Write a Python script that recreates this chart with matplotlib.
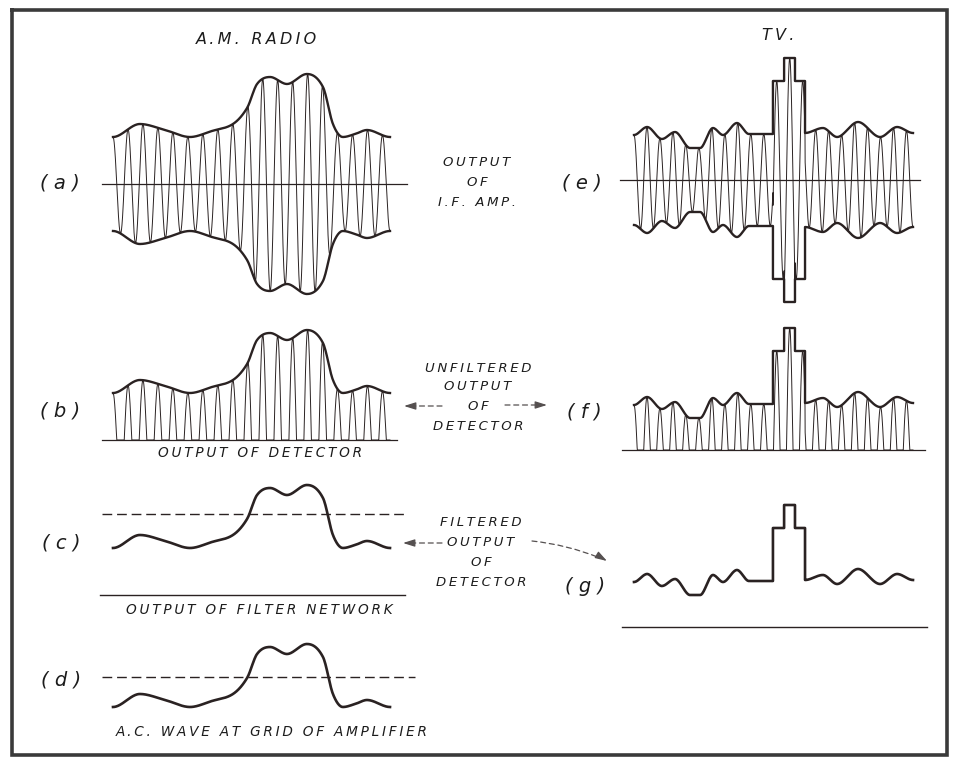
import numpy as np
import matplotlib
matplotlib.use("Agg")
import matplotlib.pyplot as plt

# ---------------- data ----------------
# A.M. radio modulation envelope: time position (0..1) and envelope amplitude
am_t = [0.000, 0.097, 0.188, 0.278, 0.357, 0.433, 0.484, 0.520, 0.567,
        0.628, 0.700, 0.758, 0.794, 0.830, 0.874, 0.917, 1.000]
am_amp = [47, 60, 54, 47, 53, 60, 76, 100, 107, 100, 110, 97, 60, 47, 50, 54, 47]

# T.V. video envelope: wave before the sync pulse, sync pulse, wave after it
tv_left_t = [0.000, 0.047, 0.100, 0.147, 0.201, 0.237, 0.283, 0.319, 0.369, 0.412, 0.498]
tv_left_amp = [45, 53, 41, 48, 32, 32, 52, 45, 57, 46, 46]
tv_pulse_t = [0.498, 0.538, 0.577, 0.613]      # pedestal start, tip start, tip end, pedestal end
tv_pulse_amp = [99, 122]                        # pedestal level, tip level
tv_right_t = [0.613, 0.677, 0.728, 0.803, 0.882, 0.943, 1.000]
tv_right_amp = [47, 52, 43, 58, 43, 53, 47]

am_cycles = 18.5   # carrier cycles drawn across the A.M. waveform
tv_cycles = 21.5   # carrier cycles drawn across the T.V. waveform

titles = ["A.M. RADIO", "TV."]
panel_labels = ["( a )", "( b )", "( c )", "( d )", "( e )", "( f )", "( g )"]
captions = ["OUTPUT OF DETECTOR", "OUTPUT OF FILTER NETWORK", "A.C. WAVE AT GRID OF AMPLIFIER"]
notes = [["OUTPUT", "OF", "I.F. AMP."],
         ["UNFILTERED", "OUTPUT", "OF", "DETECTOR"],
         ["FILTERED", "OUTPUT", "OF", "DETECTOR"]]

# ---------------- helpers ----------------
def hermite(xs, ys, xq):
    xs = np.asarray(xs, float); ys = np.asarray(ys, float); xq = np.asarray(xq, float)
    n = len(xs)
    m = np.zeros(n)
    for i in range(1, n - 1):
        if (ys[i] - ys[i - 1]) * (ys[i + 1] - ys[i]) > 0:
            m[i] = (ys[i + 1] - ys[i - 1]) / (xs[i + 1] - xs[i - 1])
    idx = np.clip(np.searchsorted(xs, xq) - 1, 0, n - 2)
    h = xs[idx + 1] - xs[idx]
    t = (xq - xs[idx]) / h
    h00 = 2 * t**3 - 3 * t**2 + 1
    h10 = t**3 - 2 * t**2 + t
    h01 = -2 * t**3 + 3 * t**2
    h11 = t**3 - t**2
    return h00 * ys[idx] + h10 * h * m[idx] + h01 * ys[idx + 1] + h11 * h * m[idx + 1]


def am_env(t):
    return hermite(am_t, am_amp, t)


def tv_env(t):
    t = np.asarray(t, float)
    out = np.empty_like(t)
    p0, p1, p2, p3 = tv_pulse_t
    left = t < p0
    right = t > p3
    out[left] = hermite(tv_left_t, tv_left_amp, t[left])
    out[right] = hermite(tv_right_t, tv_right_amp, t[right])
    ped = (t >= p0) & (t <= p3)
    out[ped] = tv_pulse_amp[0]
    tip = (t >= p1) & (t <= p2)
    out[tip] = tv_pulse_amp[1]
    return out


def am_outline():
    t = np.linspace(0, 1, 400)
    return t, am_env(t)


def tv_outline():
    p0, p1, p2, p3 = tv_pulse_t
    tl = np.linspace(tv_left_t[0], p0, 200)
    yl = hermite(tv_left_t, tv_left_amp, tl)
    tr = np.linspace(p3, tv_right_t[-1], 200)
    yr = hermite(tv_right_t, tv_right_amp, tr)
    ped, tip = tv_pulse_amp
    tm = np.array([p0, p0, p1, p1, p2, p2, p3, p3])
    ym = np.array([yl[-1], ped, ped, tip, tip, ped, ped, yr[0]])
    return np.concatenate([tl, tm, tr]), np.concatenate([yl, ym, yr])


def spaced(s, gap="\u2009"):
    return gap.join(list(s))


INK = "#2a2222"
TXT = "#1c1c1c"
ARW = "#555050"

fig = plt.figure(figsize=(9.55, 7.61), dpi=100)
ax = fig.add_axes([0, 0, 1, 1])
ax.set_xlim(0, 955)
ax.set_ylim(761, 0)
ax.axis("off")

# border
ax.plot([12, 947, 947, 12, 12], [10, 10, 755, 755, 10], color="#3a3a3a", lw=2.6,
        solid_joinstyle="miter")

font = dict(family="DejaVu Sans", style="oblique", color=TXT)

# ---- panel geometry (pixels) ----
AM_X0, AM_W = 113, 277
TV_X0, TV_W = 634, 279


def carrier(t, cycles):
    return np.cos(2 * np.pi * cycles * t)


def draw_modulated(x0, w, cy, envf, outline, cycles):
    tk = np.linspace(0, 1, 6000)
    ax.plot(x0 + tk * w, cy - envf(tk) * carrier(tk, cycles), color=INK, lw=0.7)
    t, e = outline()
    ax.plot(x0 + t * w, cy - e, color=INK, lw=1.7)
    ax.plot(x0 + t * w, cy + e, color=INK, lw=1.7)


def draw_rectified(x0, w, base, envf, outline, cycles):
    tk = np.linspace(0, 1, 6000)
    c = np.clip(carrier(tk, cycles), 0, None)
    ax.plot(x0 + tk * w, base - envf(tk) * c, color=INK, lw=0.7)
    t, e = outline()
    ax.plot(x0 + t * w, base - e, color=INK, lw=1.7)


DASH = (7, 3.5)

# (a) output of I.F. amp, A.M.
ax.plot([102, 407], [184, 184], color=INK, lw=0.9)
draw_modulated(AM_X0, AM_W, 184, am_env, am_outline, am_cycles)
# (b) detector output, A.M.
ax.plot([102, 397], [440, 440], color=INK, lw=0.9)
draw_rectified(AM_X0, AM_W, 440, am_env, am_outline, am_cycles)
# (c) filter output
t, e = am_outline()
ax.plot([102, 408], [514, 514], color=INK, lw=1.0, dashes=DASH)
ax.plot(AM_X0 + t * AM_W, 595 - e, color=INK, lw=1.9)
ax.plot([100, 405], [595, 595], color=INK, lw=1.0)
# (d) A.C. wave at grid
ax.plot([102, 415], [677, 677], color=INK, lw=1.0, dashes=DASH)
ax.plot(AM_X0 + t * AM_W, 754 - e, color=INK, lw=1.9)

# (e) T.V. I.F. output
ax.plot([620, 920], [180, 180], color=INK, lw=0.9)
draw_modulated(TV_X0, TV_W, 180, tv_env, tv_outline, tv_cycles)
# (f) detector output T.V.
ax.plot([622, 925], [450, 450], color=INK, lw=0.9)
draw_rectified(TV_X0, TV_W, 450, tv_env, tv_outline, tv_cycles)
# (g) filtered T.V.
t, e = tv_outline()
ax.plot(TV_X0 + t * TV_W, 627 - e, color=INK, lw=1.9)
ax.plot([622, 927], [627, 627], color=INK, lw=1.0)

# titles
ax.text(256, 39, spaced(titles[0]), fontsize=11.5, ha="center", va="center", **font)
ax.text(778, 36, spaced(titles[1]), fontsize=11.5, ha="center", va="center", **font)

# panel labels
label_pos = [(60, 183), (60, 411), (61, 543), (61, 680), (582, 183), (584, 412), (585, 586)]
for lab, (x, y) in zip(panel_labels, label_pos):
    ax.text(x, y, lab, fontsize=14, ha="center", va="center", **font)

# captions
cap_pos = [(260, 453), (259, 610), (272, 732)]
for cap, (x, y) in zip(captions, cap_pos):
    ax.text(x, y, spaced(cap), fontsize=9.8, ha="center", va="center", **font)

# side notes
note_pos = [(477, [162, 182, 202]), (478, [368, 387, 406, 426]), (481, [522, 542, 562, 582])]
for lines, (x, ys) in zip(notes, note_pos):
    for s, y in zip(lines, ys):
        ax.text(x, y, spaced(s), fontsize=9.5, ha="center", va="center", **font)


# dashed arrows
def dashed_arrow(x1, y1, x2, y2, rad=0.0, hdir=None):
    ax.annotate("", xy=(x2, y2), xytext=(x1, y1),
                arrowprops=dict(arrowstyle="-", color=ARW, lw=0.9, linestyle=(0, (4, 3)),
                                connectionstyle=f"arc3,rad={rad}", shrinkA=0, shrinkB=6))
    if hdir is None:
        ang = np.arctan2(y2 - y1, x2 - x1)
    else:
        ang = hdir
    hx, hy = x2 - 10 * np.cos(ang), y2 - 10 * np.sin(ang)
    ax.annotate("", xy=(x2, y2), xytext=(hx, hy),
                arrowprops=dict(arrowstyle="-|>,head_length=0.7,head_width=0.22",
                                color=ARW, lw=0.9, shrinkA=0, shrinkB=0))


dashed_arrow(442, 406, 404, 406)
dashed_arrow(505, 405, 547, 405)
dashed_arrow(442, 543, 403, 543)
dashed_arrow(532, 541, 607, 561, rad=-0.08, hdir=np.arctan2(12, 20))

fig.savefig("out.png", dpi=100, facecolor="white")
